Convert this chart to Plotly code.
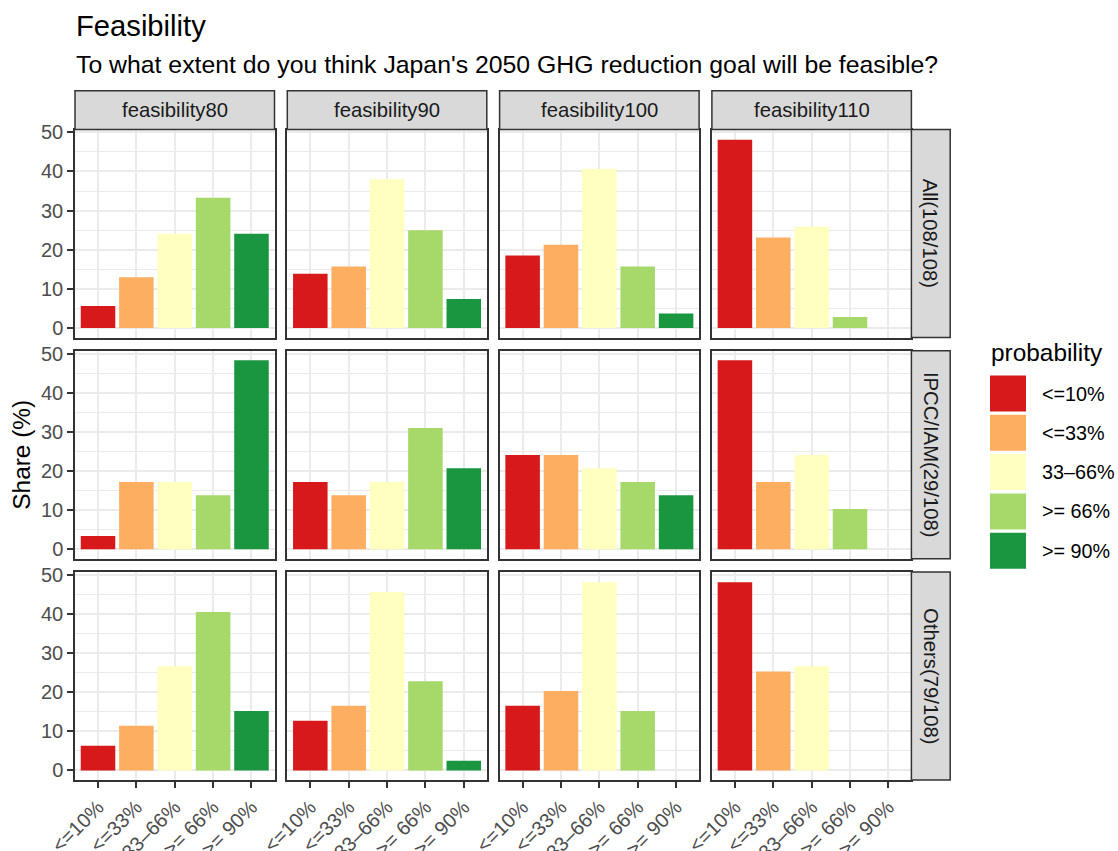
import plotly.graph_objects as go

# ---- data: share (%) of respondents per probability class ----
questions = ["feasibility80", "feasibility90", "feasibility100", "feasibility110"]
groups = ["All(108/108)", "IPCC/IAM(29/108)", "Others(79/108)"]
probability = ["<=10%", "<=33%", "33\u201366%", ">= 66%", ">= 90%"]
colors = ["#D7191C", "#FDAE61", "#FFFFBF", "#A6D96A", "#1A9641"]

# one list per question, values in the order of `probability`
share_all = [
    [5.6, 13.0, 24.1, 33.3, 24.1],
    [13.9, 15.7, 38.0, 25.0, 7.4],
    [18.5, 21.3, 40.7, 15.7, 3.7],
    [48.1, 23.1, 25.9, 2.8, 0.0],
]
share_ipcc = [
    [3.4, 17.2, 17.2, 13.8, 48.3],
    [17.2, 13.8, 17.2, 31.0, 20.7],
    [24.1, 24.1, 20.7, 17.2, 13.8],
    [48.3, 17.2, 24.1, 10.3, 0.0],
]
share_others = [
    [6.3, 11.4, 26.6, 40.5, 15.2],
    [12.7, 16.5, 45.6, 22.8, 2.5],
    [16.5, 20.3, 48.1, 15.2, 0.0],
    [48.1, 25.3, 26.6, 0.0, 0.0],
]
shares = [share_all, share_ipcc, share_others]

title = "Feasibility"
subtitle = "To what extent do you think Japan's 2050 GHG reduction goal will be feasible?"
y_title = "Share (%)"
legend_title = "probability"

# ---- layout geometry (pixels) ----
W, H = 1118, 851
FONT = "Liberation Sans, Arial, Helvetica, sans-serif"
PANEL_L, PANEL_W, COL_STEP = 75.0, 199.5, 212.3
PANEL_T, PANEL_H, ROW_STEP = 129.5, 208.0, 221.2
STRIP = 38.8
BORDER = "#333333"
TICK_SIZE = 20
STRIP_SIZE = 20.3


def fx(p):
    return p / W


def fy(p):
    return 1 - p / H


ymax = max(v for g in shares for q in g for v in q)
pad = 0.05 * ymax
yrange = [-pad, ymax + pad]

fig = go.Figure()
layout = dict(
    width=W, height=H,
    margin=dict(l=0, r=0, t=0, b=0, pad=0, autoexpand=False),
    paper_bgcolor="white", plot_bgcolor="white",
    showlegend=False, bargap=0.1,
    font=dict(family=FONT, color="#1A1A1A"),
)
shapes, annotations = [], []

for r, grp in enumerate(groups):
    top = PANEL_T + r * ROW_STEP
    bot = top + PANEL_H
    for c, q in enumerate(questions):
        k = r * 4 + c + 1
        left = PANEL_L + c * COL_STEP
        right = left + PANEL_W
        xa, ya = f"xaxis{k}", f"yaxis{k}"
        fig.add_trace(go.Bar(
            x=probability, y=shares[r][c],
            marker=dict(color=colors, line=dict(width=0)),
            xaxis=f"x{k}", yaxis=f"y{k}", width=0.9,
        ))
        bottom_row = r == len(groups) - 1
        first_col = c == 0
        layout[xa] = dict(
            domain=[fx(left), fx(right)], anchor=f"y{k}", automargin=False,
            type="category", categoryorder="array", categoryarray=probability,
            range=[-0.6, len(probability) - 0.4],
            showgrid=True, gridcolor="#EBEBEB", gridwidth=1.7,
            showline=True, linecolor=BORDER, linewidth=1.5, mirror=True,
            ticks="outside" if bottom_row else "", ticklen=6, tickwidth=1.5,
            tickcolor=BORDER, showticklabels=bottom_row, tickangle=-45,
            tickfont=dict(size=TICK_SIZE, color="#4D4D4D", family=FONT),
            zeroline=False,
        )
        layout[ya] = dict(
            domain=[fy(bot), fy(top)], anchor=f"x{k}", automargin=False,
            range=yrange, dtick=10, tick0=0,
            showgrid=True, gridcolor="#EBEBEB", gridwidth=1.7,
            minor=dict(dtick=5, tick0=0, showgrid=True, gridcolor="#EBEBEB",
                       gridwidth=1.0, ticks=""),
            showline=True, linecolor=BORDER, linewidth=1.5, mirror=True,
            ticks="outside" if first_col else "", ticklen=6, tickwidth=1.5,
            tickcolor=BORDER, showticklabels=first_col,
            tickfont=dict(size=TICK_SIZE, color="#4D4D4D", family=FONT),
            zeroline=False,
        )
        # column strip on top row
        if r == 0:
            shapes.append(dict(
                type="rect", xref="paper", yref="paper",
                x0=fx(left), x1=fx(right), y0=fy(top), y1=fy(top - STRIP),
                fillcolor="#D9D9D9", line=dict(color=BORDER, width=1.5), layer="above",
            ))
            annotations.append(dict(
                text=q, xref="paper", yref="paper",
                x=fx((left + right) / 2), y=fy(top - STRIP / 2),
                xanchor="center", yanchor="middle", showarrow=False,
                font=dict(size=STRIP_SIZE, color="#1A1A1A", family=FONT),
            ))
        # row strip on right column
        if c == len(questions) - 1:
            shapes.append(dict(
                type="rect", xref="paper", yref="paper",
                x0=fx(right), x1=fx(right + STRIP), y0=fy(bot), y1=fy(top),
                fillcolor="#D9D9D9", line=dict(color=BORDER, width=1.5), layer="above",
            ))
            annotations.append(dict(
                text=grp, xref="paper", yref="paper",
                x=fx(right + STRIP / 2), y=fy((top + bot) / 2),
                xanchor="center", yanchor="middle", showarrow=False, textangle=90,
                font=dict(size=STRIP_SIZE, color="#1A1A1A", family=FONT),
            ))

# titles
annotations.append(dict(
    text=title, xref="paper", yref="paper", x=fx(74), y=fy(26),
    xanchor="left", yanchor="middle", showarrow=False,
    font=dict(size=29.2, color="#000000", family=FONT),
))
annotations.append(dict(
    text=subtitle, xref="paper", yref="paper", x=fx(74), y=fy(64.5),
    xanchor="left", yanchor="middle", showarrow=False,
    font=dict(size=24.8, color="#000000", family=FONT),
))
annotations.append(dict(
    text=y_title, xref="paper", yref="paper", x=fx(22),
    y=fy((PANEL_T + PANEL_T + 2 * ROW_STEP + PANEL_H) / 2),
    xanchor="center", yanchor="middle", showarrow=False, textangle=-90,
    font=dict(size=24.4, color="#000000", family=FONT),
))

# legend: colour keys with labels
LEG_X, LEG_KEY, LEG_STEP, LEG_TOP = 990.0, 36.0, 39.3, 375.5
annotations.append(dict(
    text=legend_title, xref="paper", yref="paper", x=fx(LEG_X - 1), y=fy(352),
    xanchor="left", yanchor="middle", showarrow=False,
    font=dict(size=24.4, color="#000000", family=FONT),
))
for i, (lab, col) in enumerate(zip(probability, colors)):
    t = LEG_TOP + i * LEG_STEP
    shapes.append(dict(
        type="rect", xref="paper", yref="paper",
        x0=fx(LEG_X), x1=fx(LEG_X + LEG_KEY), y0=fy(t + LEG_KEY), y1=fy(t),
        fillcolor=col, line=dict(width=0),
    ))
    annotations.append(dict(
        text=lab, xref="paper", yref="paper", x=fx(1040), y=fy(t + LEG_KEY / 2),
        xanchor="left", yanchor="middle", showarrow=False,
        font=dict(size=19.8, color="#000000", family=FONT),
    ))

layout["shapes"] = shapes
layout["annotations"] = annotations
fig.update_layout(**layout)
fig.write_html("out.html")
